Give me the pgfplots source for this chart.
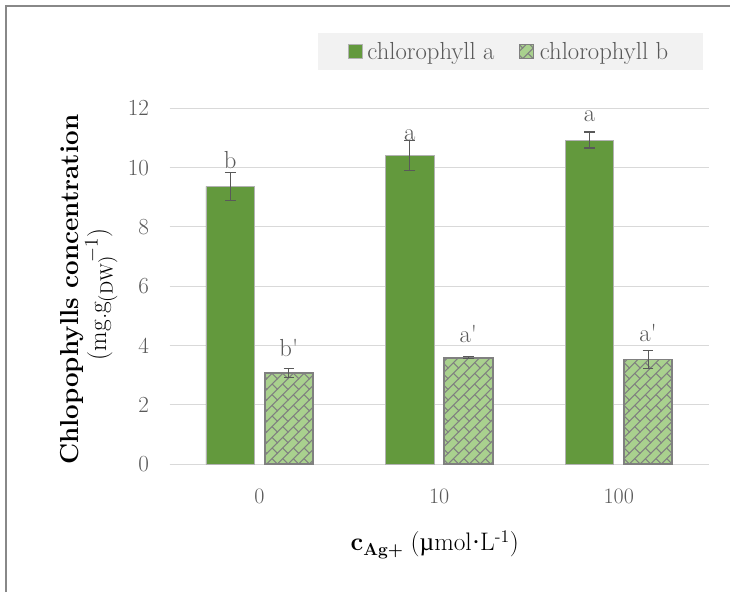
\documentclass[border=0pt]{standalone}
\usepackage{fontspec}
\newfontfamily\lib{Liberation Serif}
\usepackage{pgfplots}
\pgfplotsset{compat=1.18}
\usetikzlibrary{patterns.meta}
\definecolor{chla}{HTML}{63993D}
\definecolor{chlb}{HTML}{A9D18E}
\definecolor{patgray}{HTML}{808080}
\definecolor{gridgray}{HTML}{D9D9D9}
\definecolor{txtgray}{HTML}{595959}
\definecolor{legbg}{HTML}{F2F2F2}
\definecolor{framegray}{HTML}{888888}
\tikzdeclarepattern{
  name=dbrick, type=uncolored,
  bounding box={(-0.5pt,-0.5pt) and (8.5pt,8.5pt)},
  tile size={(8pt,8pt)},
  code={
    \draw[line width=0.8pt] (-0.5pt,-0.5pt) -- (8.5pt,8.5pt);
    \draw[line width=0.8pt] (4pt,4pt) -- (8pt,0pt);
  }
}
\pgfplotstableread{
x y e
0 9.37 0.47
1 10.40 0.50
2 10.93 0.27
}\chla
\pgfplotstableread{
x y e
0 3.07 0.15
1 3.59 0.03
2 3.53 0.30
}\chlb
\begin{document}
\begin{tikzpicture}
\useasboundingbox (0,0) rectangle (547.5pt,444pt);
\draw[line width=1.5pt, framegray] (4.5pt,0) -- (4.5pt,439.5pt) -- (547.5pt,439.5pt);
\begin{axis}[
  at={(127.3pt,95.8pt)}, anchor=south west,
  scale only axis, width=404.1pt, height=267pt,
  ybar, bar width=36.4pt,
  xmin=-0.5, xmax=2.5, ymin=0, ymax=12,
  xtick={0,1,2}, xticklabels={0,10,100},
  ytick={0,2,...,12},
  axis x line*=bottom, axis y line*=left,
  x axis line style={gridgray, line width=0.8pt},
  y axis line style={draw=none},
  ymajorgrids, grid style={gridgray, line width=0.8pt},
  major tick length=0pt,
  tick label style={font=\fontsize{16.5}{19}\selectfont, text=txtgray},
  xticklabel style={yshift=-15pt},
  yticklabel style={xshift=-12pt},
  xlabel={\fontsize{19}{22}\selectfont\textbf{c}\raisebox{-4pt}{\fontsize{13}{15}\selectfont\textbf{Ag+}} ({\lib µ}mol{\lib ·}L\textsuperscript{-1})},
  xlabel style={at={(rel axis cs:0.492,-0.2267)}, anchor=center},
  legend columns=2,
  legend style={at={(rel axis cs:0.6325,1.1596)}, anchor=center, draw=none, fill=legbg,
    font=\fontsize{18.5}{21}\selectfont, text=txtgray, inner xsep=22pt, inner ysep=5pt,
    /tikz/every even column/.append style={column sep=14pt},
    nodes={inner xsep=4pt}},
  legend image code/.code={\draw[#1] (0pt,-5.25pt) rectangle (10.5pt,5.25pt);},
  error bars/error bar style={txtgray, line width=0.8pt},
  error bars/error mark options={rotate=90, mark size=4pt, line width=0.8pt, txtgray},
  clip=false,
]
\addplot[fill=chla, draw=gray!60, line width=0.4pt, bar shift=-22pt,
  error bars/.cd, y dir=both, y explicit]
  table[x=x, y=y, y error=e] {\chla};
\addlegendentry{chlorophyll a}
\addplot[fill=chlb, draw=patgray, line width=1.4pt, bar shift=22pt,
  postaction={pattern={dbrick}, pattern color=patgray},
  error bars/.cd, y dir=both, y explicit]
  table[x=x, y=y, y error=e] {\chlb};
\addlegendentry{chlorophyll b}
\node[rotate=90, anchor=center, inner sep=0pt, font=\fontsize{19.5}{24}\selectfont\bfseries]
  at (rel axis cs:-0.1805,0.49) {Chlopophylls concentration};
\node[rotate=90, anchor=center, inner sep=0pt, font=\fontsize{19}{22}\selectfont]
  at (rel axis cs:-0.127,0.478) {(mg.g$_{\mathrm{(DW)}}\mkern-5mu{}^{-1}$)};
\begin{scope}[every node/.style={anchor=base, inner sep=0pt, font=\fontsize{18.5}{21}\selectfont, text=txtgray}]
\node at (axis cs:-0.163,9.98) {b};
\node at (axis cs:0.163,3.63) {b\textquotesingle};
\node at (axis cs:0.837,10.93) {a};
\node at (axis cs:1.163,4.1) {a\textquotesingle};
\node at (axis cs:1.837,11.55) {a};
\node at (axis cs:2.163,4.13) {a\textquotesingle};
\end{scope}
\end{axis}
\end{tikzpicture}
\end{document}
